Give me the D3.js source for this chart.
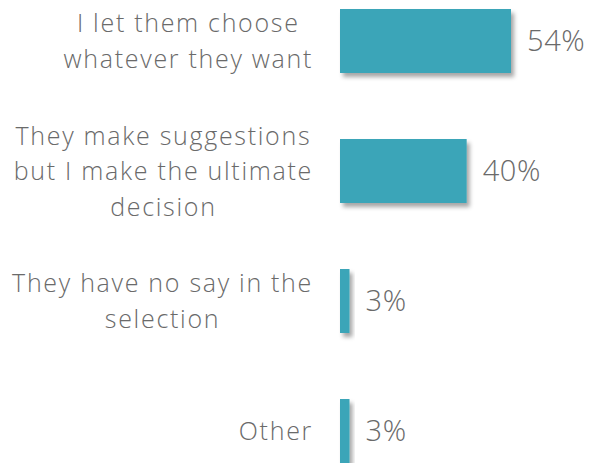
<!DOCTYPE html>
<html>
<head>
<meta charset="utf-8">
<script src="https://cdn.jsdelivr.net/npm/d3@7"></script>
<style>
  html, body { margin: 0; padding: 0; background: #fff; }
  svg { display: block; }
</style>
</head>
<body>
<div id="chart"></div>
<script>
// Survey answers (line breaks mark how each label wraps)
const categories = [
  "I let them choose\nwhatever they want",
  "They make suggestions\nbut I make the ultimate\ndecision",
  "They have no say in the\nselection",
  "Other"
];
const values = [54, 40, 3, 3];
const valueLabels = ["54%", "40%", "3%", "3%"];

const width = 590, height = 463;
const barColor = "#3ba5b8";
const textColor = "#6a6a6a";
const fontFamily = "'Open Sans', 'Noto Sans', sans-serif";

const svg = d3.select("#chart").append("svg")
  .attr("width", width)
  .attr("height", height);

// soft drop shadow under the bars
const defs = svg.append("defs");
const shadow = defs.append("filter")
  .attr("id", "barShadow")
  .attr("x", "-50%").attr("y", "-50%")
  .attr("width", "200%").attr("height", "200%");
shadow.append("feDropShadow")
  .attr("dx", 3).attr("dy", 4)
  .attr("stdDeviation", 2)
  .attr("flood-color", "#000")
  .attr("flood-opacity", 0.35);

const y = d3.scaleBand()
  .domain(categories)
  .range([9, 463])
  .paddingInner(66 / 130)
  .paddingOuter(0);

const x = d3.scaleLinear()
  .domain([0, 54])
  .range([340, 511]);

const rows = categories.map((c, i) => ({ cat: c, value: values[i], label: valueLabels[i] }));

// bars
svg.append("g").selectAll("rect")
  .data(rows)
  .join("rect")
  .attr("x", x(0))
  .attr("y", d => y(d.cat))
  .attr("width", d => x(d.value) - x(0))
  .attr("height", y.bandwidth())
  .attr("fill", barColor)
  .attr("filter", "url(#barShadow)");

// value labels
svg.append("g").selectAll("text")
  .data(rows)
  .join("text")
  .attr("x", d => x(d.value) + 16)
  .attr("y", d => y(d.cat) + y.bandwidth() / 2)
  .attr("dy", "0.36em")
  .attr("font-family", fontFamily)
  .attr("font-weight", 300)
  .attr("font-size", 29)
  .attr("letter-spacing", 0.6)
  .attr("fill", textColor)
  .text(d => d.label);

// category labels: centered lines, block right-aligned to the bar axis
const labelRight = 313;
const lineHeight = 35.5;
const labelFont = 25;
const catG = svg.append("g");
rows.forEach(d => {
  const lines = d.cat.split("\n");
  const cy = y(d.cat) + y.bandwidth() / 2;
  const t = catG.append("text")
    .attr("font-family", fontFamily)
    .attr("font-weight", 300)
    .attr("font-size", labelFont)
    .attr("letter-spacing", 1.7)
    .attr("fill", textColor)
    .attr("text-anchor", "middle");
  const spans = lines.map((ln, i) => t.append("tspan")
    .attr("y", cy + (i - (lines.length - 1) / 2) * lineHeight)
    .attr("dy", "0.36em")
    .text(ln));
  const w = d3.max(spans, s => s.node().getComputedTextLength());
  spans.forEach(s => s.attr("x", labelRight - w / 2));
});
</script>
</body>
</html>
